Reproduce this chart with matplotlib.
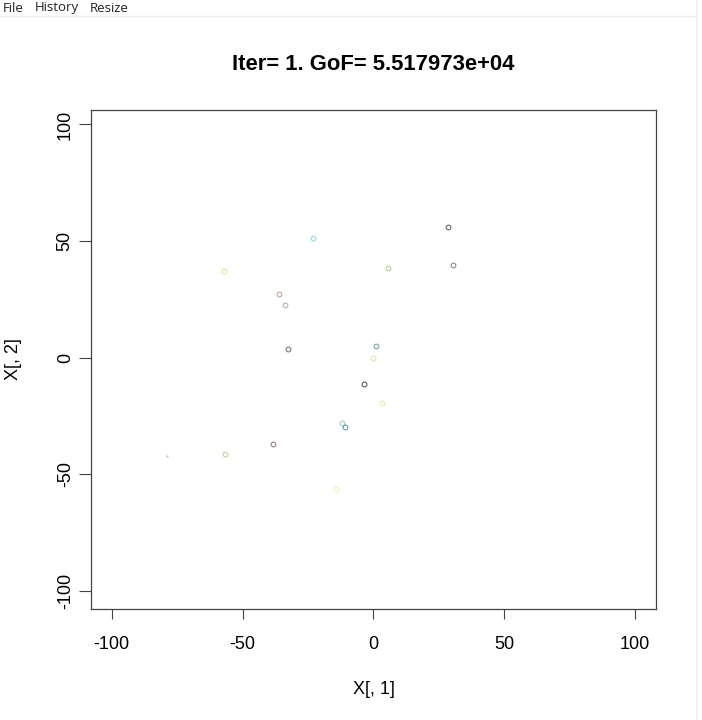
import matplotlib
matplotlib.use("Agg")
import matplotlib.pyplot as plt
from matplotlib.lines import Line2D

# point coordinates
xs = [28.4, 30.6, -22.9, 5.6, -57.2, -36.0, -33.6, -32.5, 1.1, -0.1,
      -3.7, 3.4, -12.0, -10.7, -38.4, -56.6, -78.7, -14.4]
ys = [56.0, 39.8, 51.5, 38.6, 37.3, 27.3, 22.6, 3.6, 5.0, 0.0,
      -11.1, -19.3, -28.0, -29.8, -37.1, -41.2, -42.3, -56.3]
cols = ["#5a4848", "#707a80", "#88d4dc", "#9cce84", "#d6e08c", "#b4988c",
        "#a4a4a8", "#606068", "#5a9896", "#e4dca0", "#503848", "#e8e890",
        "#94c4c4", "#4a8a88", "#846474", "#c8c484", "#b8b8b8", "#f0eca8"]
sizes = [3.4] * 16 + [0.8, 3.4]

ticks = [-100, -50, 0, 50, 100]
title = "Iter= 1. GoF= 5.517973e+04"

plt.rcParams['font.family'] = ['Liberation Sans', 'DejaVu Sans']

fig = plt.figure(figsize=(7.02, 7.2), dpi=100)
ax = fig.add_axes([91/702, 1 - 609/720, 565/702, 499/720])

for x, y, c, s in zip(xs, ys, cols, sizes):
    ax.plot(x, y, 'o', mfc='none', mec=c, ms=s, mew=0.8, alpha=0.85)

ax.set_xlim(-107.9, 108.0)
ax.set_ylim(-107.8, 106.2)
ax.set_xticks(ticks)
ax.set_yticks(ticks)
ax.set_xticklabels([str(t) for t in ticks])
ax.set_yticklabels([str(t) for t in ticks], rotation=90, va='center')
ax.tick_params(axis='x', length=7.3, width=0.8, color='#444444', labelsize=13, pad=12)
ax.tick_params(axis='y', length=8.4, width=0.8, color='#444444', labelsize=13, pad=4)
for s in ax.spines.values():
    s.set_color('#444444')
    s.set_linewidth(0.9)

ax.set_xlabel("X[, 1]", fontsize=13)
ax.set_ylabel("X[, 2]", fontsize=13)
ax.xaxis.set_label_coords(0.5, -(689 - 609) / 499)
ax.xaxis.label.set_va('center')
ax.yaxis.set_label_coords(-(91 - 13) / 565, 0.5)
ax.yaxis.label.set_va('center')

fig.text((91 + 656) / 2 / 702, 1 - 65 / 720, title, ha='center', va='center',
         fontsize=15.8, fontweight='bold')

# window menu bar
for word, px in [("File", 3), ("History", 35), ("Resize", 90)]:
    fig.text(px / 702, 1 - 8 / 720, word, ha='left', va='center',
             fontsize=9.5, family=['Open Sans', 'DejaVu Sans'], color='#222222')
fig.add_artist(Line2D([0, 697/702], [1 - 16/720, 1 - 16/720], color='#eeeeee', lw=1))
fig.add_artist(Line2D([697/702, 697/702], [0, 1], color='#eef4ee', lw=1.5))

fig.savefig("out.png", dpi=100)
